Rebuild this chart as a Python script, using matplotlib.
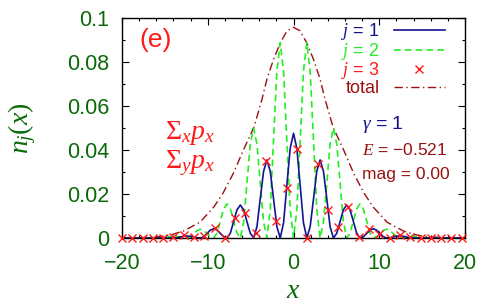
import matplotlib
matplotlib.use('Agg')
import matplotlib.pyplot as plt
from matplotlib.ticker import MultipleLocator, FuncFormatter

plt.rcParams['font.family'] = ['Liberation Sans', 'DejaVu Sans']
plt.rcParams['mathtext.fontset'] = 'custom'
plt.rcParams['mathtext.rm'] = 'Liberation Serif'
plt.rcParams['mathtext.it'] = 'Liberation Serif:italic'
plt.rcParams['mathtext.bf'] = 'Liberation Serif:bold'

# colours
navy = '#14148f'
lime = '#22ee22'
red = '#ff1a1a'
darkred = '#991111'
axgreen = '#0a6a0a'

# sample positions for j=1 and j=2 (right half, mirrored below)
x_half = [0, 0.39, 0.78, 1.16, 1.55, 1.94, 2.33, 2.71, 3.10, 3.49, 3.88, 4.26,
          4.65, 5.04, 5.43, 5.81, 6.20, 6.59, 6.98, 7.36, 7.75, 8.14, 8.53, 8.91,
          9.30, 9.69, 10.08, 10.46, 10.85, 11.24, 11.63, 12.01, 12.40, 12.79,
          13.18, 13.56, 13.95, 14.34, 14.73, 15.11, 15.50, 20.0]

# j = 1 density
n1_half = [0.0476, 0.0407, 0.0238, 0.0069, 0.0, 0.0052, 0.0178, 0.0303, 0.0355,
           0.0303, 0.0178, 0.0052, 0.0, 0.0022, 0.0075, 0.0128, 0.0150, 0.0128,
           0.0075, 0.0022, 0.0, 0.0006, 0.0021, 0.0036, 0.0042, 0.0036, 0.0021,
           0.0006, 0.0, 0.0001, 0.0005, 0.0008, 0.0009, 0.0008, 0.0005, 0.0001,
           0.0, 0.0, 0.0, 0.0, 0.0, 0.0]

# j = 2 density
n2_half = [0.0, 0.0130, 0.0444, 0.0758, 0.0888, 0.0758, 0.0444, 0.0130, 0.0,
           0.0073, 0.0250, 0.0427, 0.0500, 0.0427, 0.0250, 0.0073, 0.0, 0.0023,
           0.0078, 0.0132, 0.0155, 0.0132, 0.0078, 0.0023, 0.0, 0.0006, 0.0020,
           0.0034, 0.0040, 0.0034, 0.0020, 0.0006, 0.0, 0.0001, 0.0004, 0.0007,
           0.0008, 0.0007, 0.0004, 0.0001, 0.0, 0.0]

# j = 3 density (crosses)
x3 = [-20, -18.8, -17.6, -16.4, -15.2, -14, -12.8, -11.6, -10.4, -9.2, -8, -6.8,
      -5.6, -4.4, -3.2, -2, -0.8, 0.4, 1.6, 2.8, 4, 5.2, 6.4, 7.6, 8.8, 10, 11.2,
      12.4, 13.6, 14.8, 16, 17.2, 18.4, 19.6]
n3 = [0, 0, 0, 0, 0.0001, 0.0003, 0.0012, 0.0006, 0.0010, 0.0044, 0.0002, 0.0093,
      0.0115, 0.0021, 0.0351, 0.0076, 0.0228, 0.0403, 0.0, 0.0336, 0.0126, 0.0049,
      0.0142, 0.0006, 0.0039, 0.0018, 0.0, 0.0014, 0.0006, 0.0002, 0, 0, 0, 0]

# total density
x_tot = [-20, -18, -16, -14.5, -12.8, -10.9, -9.3, -8.2, -7.0, -5.9, -4.6, -3.7,
         -3.07, -2.3, -1.5, -0.75, 0, 0.75, 1.5, 2.3, 3.07, 3.7, 4.6, 5.9, 7.0,
         8.2, 9.3, 10.9, 12.8, 14.5, 16, 18, 20]
n_tot = [0.0, 0.0001, 0.0005, 0.0012, 0.0032, 0.0072, 0.0140, 0.0205, 0.0295,
         0.0395, 0.0505, 0.0627, 0.0726, 0.0815, 0.0890, 0.0942, 0.0958, 0.0942,
         0.0890, 0.0815, 0.0726, 0.0627, 0.0505, 0.0395, 0.0295, 0.0205, 0.0140,
         0.0072, 0.0032, 0.0012, 0.0005, 0.0001, 0.0]

# mirror the symmetric halves
x12 = [-v for v in x_half[::-1]] + x_half[1:]
n1 = n1_half[::-1] + n1_half[1:]
n2 = n2_half[::-1] + n2_half[1:]

fig = plt.figure(figsize=(4.8, 3.03), dpi=100)
ax = fig.add_axes([0.254, 0.2145, 0.715, 0.726])

l4, = ax.plot(x_tot, n_tot, color=darkred, lw=1.0, dashes=(6, 2.5, 1, 2.5),
              label='total', zorder=2)
l2, = ax.plot(x12, n2, color=lime, lw=1.2, dashes=(4, 2.5), label='$j$ = 2', zorder=2.1)
l1, = ax.plot(x12, n1, color=navy, lw=1.2, label='$j$ = 1', zorder=2.2)
l3, = ax.plot(x3, n3, ls='none', marker='x', ms=6, mew=1.0, color=red,
              clip_on=False, label='$j$ = 3', zorder=3)

ax.set_xlim(-20, 20)
ax.set_ylim(0, 0.1)
ax.xaxis.set_major_locator(MultipleLocator(10))
ax.xaxis.set_minor_locator(MultipleLocator(2))
ax.yaxis.set_major_locator(MultipleLocator(0.02))
ax.yaxis.set_minor_locator(MultipleLocator(0.01))
fmt = FuncFormatter(lambda v, p: ('%g' % round(v, 4)).replace('-', '\u2212'))
ax.xaxis.set_major_formatter(fmt)
ax.yaxis.set_major_formatter(fmt)
ax.tick_params(which='both', direction='in', top=True, right=True,
               labelcolor=axgreen, width=0.8)
ax.tick_params(which='major', length=5, labelsize=15.5, pad=9)
ax.tick_params(axis='x', which='major', pad=11)
ax.tick_params(which='minor', length=2.5)
for s in ax.spines.values():
    s.set_linewidth(1.0)

ax.set_xlabel('$x$', fontsize=20, color=axgreen)
ax.set_ylabel('$n_j(x)$', fontsize=20, color=axgreen)
ax.xaxis.set_label_coords(0.5, -0.18)
ax.yaxis.set_label_coords(-0.245, 0.5)

ax.legend(handles=[l1, l2, l3, l4], loc='upper right', bbox_to_anchor=(0.94, 0.985),
          frameon=False, markerfirst=False, fontsize=13, handlelength=2.8,
          handletextpad=0.8, labelspacing=-0.08, borderpad=0, borderaxespad=0,
          labelcolor='linecolor')

ax.text(0.052, 0.955, '(e)', transform=ax.transAxes, color=red, fontsize=19,
        ha='left', va='top')
ax.text(0.125, 0.477, r'$\Sigma_x p_x$', transform=ax.transAxes, color=red,
        fontsize=20, va='center')
ax.text(0.125, 0.34, r'$\Sigma_y p_x$', transform=ax.transAxes, color=red,
        fontsize=20, va='center')
ax.text(0.70, 0.516, r'$\gamma$ = 1', transform=ax.transAxes, color=navy,
        fontsize=14, va='center')
ax.text(0.70, 0.398, '$E$ = \u22120.521', transform=ax.transAxes, color=darkred,
        fontsize=12.5, va='center')
ax.text(0.70, 0.289, 'mag = 0.00', transform=ax.transAxes, color=darkred,
        fontsize=12.5, va='center')

fig.savefig('out.png', dpi=100)
